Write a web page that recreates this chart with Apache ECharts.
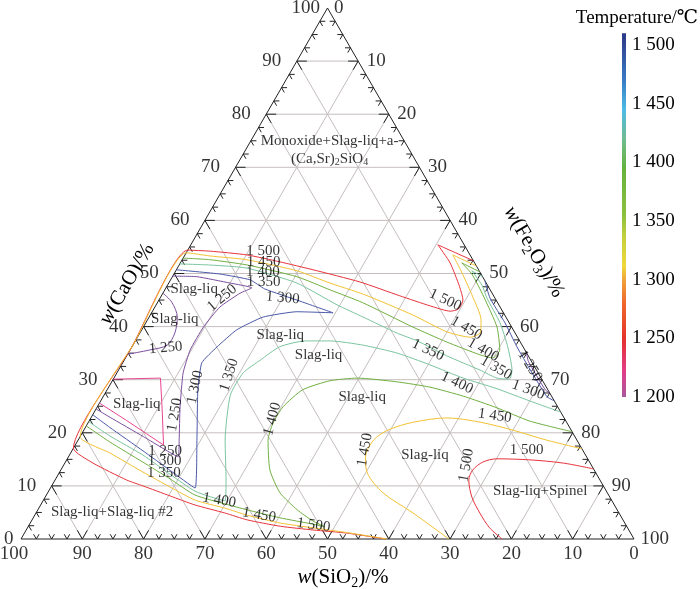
<!DOCTYPE html>
<html>
<head>
<meta charset="utf-8">
<script src="https://cdn.jsdelivr.net/npm/echarts@6.0.0/dist/echarts.min.js"></script>
<style>html,body{margin:0;padding:0;background:#fff;}#chart{width:700px;height:589px;}</style>
</head>
<body>
<div id="chart"></div>
<script>
// ===== DATA (compositions in mass %, point order [SiO2, CaO, Fe2O3]) =====
const SIO2_TICKS = [100, 90, 80, 70, 60, 50, 40, 30, 20, 10, 0];
const CAO_TICKS = [0, 10, 20, 30, 40, 50, 60, 70, 80, 90, 100];
const FE2O3_TICKS = [0, 10, 20, 30, 40, 50, 60, 70, 80, 90, 100];
const GRID_LEVELS = [10, 20, 30, 40, 50, 60, 70, 80, 90];
const MINOR_STEP = 2.5;
const TEMP_TICKS = [1200, 1250, 1300, 1350, 1400, 1450, 1500];
const TEMP_BAR_RANGE = [1200, 1510];

const iso1500_upper = [[0,52.4,47.6],[4.3,55.4,40.3],[4.0,52.0,44.0],[4.7,47.5,47.8],[5.4,45.0,49.6],[7.0,43.3,49.7],[8.5,42.9,48.6],[11.3,43.9,44.8],[15.3,45.8,38.9],[20.5,48.4,31.1],[27.0,50.7,22.3],[31.7,52.2,16.1],[36.4,53.5,10.1],[42.0,54.2,3.8],[45.6,54.4,0],[64.0,36.0,0],[82.9,17.1,0],[81.1,14.3,4.6],[77.2,11.1,11.7],[75.1,10.0,14.9],[71.6,8.1,20.3],[68.4,6.4,25.2],[64.3,4.9,30.8],[61.3,3.6,35.1],[56.5,2.4,41.1],[51.5,1.7,46.8],[46.2,1.1,52.7],[40.5,0,59.5]];
const iso1500_right = [[0,13.2,86.8],[4.4,14.3,81.3],[9.5,14.9,75.6],[14.8,15.1,70.1],[17.4,14.5,68.1],[19.8,13.0,67.2],[21.4,11.1,67.5],[22.5,7.9,69.6],[22.7,4.9,72.4],[22.5,2.1,75.4],[21.5,0,78.5]];
const iso1450_upper = [[0,51.4,48.6],[2.8,53.5,43.7],[3.0,50.1,46.9],[3.5,45.6,50.9],[4.3,41.3,54.4],[5.7,38.8,55.5],[7.7,38.0,54.3],[11.0,39.0,50.0],[15.0,42.2,42.8],[21.1,46.1,32.8],[25.5,48.2,26.3],[29.7,50.5,19.8],[36.9,52.6,10.5],[42.5,53.3,4.2],[46.1,53.9,0],[63.0,37.0,0],[80.7,19.3,0],[77.4,16.2,6.4],[73.8,12.6,13.6],[70.8,9.8,19.4],[67.9,7.3,24.8],[63.8,5.8,30.4],[60.9,4.5,34.6],[56.2,3.0,40.8],[51.3,2.1,46.6],[46.2,1.2,52.6],[40.3,0,59.7]];
const iso1450_right = [[30.2,0,69.8],[33.6,4.9,61.5],[36.6,8.7,54.7],[37.3,12.4,50.3],[36.1,15.4,48.5],[33.2,18.6,48.2],[29.9,20.5,49.6],[25.0,22.0,53.0],[19.1,22.8,58.1],[14.1,22.0,63.9],[9.5,20.5,70.0],[4.9,18.6,76.5],[0,17.0,83.0]];
const iso1400_upper = [[0,50.3,49.7],[2.1,52.0,45.9],[1.5,49.9,48.6],[1.7,45.6,52.7],[2.4,39.9,57.7],[4.1,35.6,60.3],[6.0,34.1,59.9],[7.8,34.7,57.5],[12.0,37.1,50.9],[16.1,39.9,44.0],[22.0,44.5,33.5],[26.1,46.9,27.0],[30.3,49.4,20.3],[37.3,51.6,11.1],[42.9,52.6,4.5],[47.1,52.9,0]];
const iso1400_main = [[78.7,21.3,0],[76.4,18.3,5.3],[72.9,14.5,12.6],[70.0,11.3,18.7],[67.5,8.3,24.2],[63.4,6.6,30.0],[60.4,5.5,34.1],[55.8,4.0,40.2],[51.0,2.8,46.2],[49.3,2.3,48.4],[50.7,3.4,45.9],[52.2,5.5,42.3],[53.4,8.7,37.9],[52.9,13.0,34.1],[50.4,18.6,31.0],[48.0,21.8,30.2],[44.8,24.9,30.3],[40.0,28.1,31.9],[34.7,29.8,35.5],[30.0,30.3,39.7],[23.9,29.6,46.5],[19.0,28.6,52.4],[14.4,26.9,58.7],[10.0,24.7,65.3],[5.9,22.2,71.9],[0,20.2,79.8]];
const iso1350_upper = [[0,49.4,50.6],[1.2,50.5,48.3],[0.9,47.8,51.3],[1.3,45.4,53.3],[1.5,40.7,57.8],[2.5,36.2,61.3],[4.0,31.8,64.2],[5.3,30.1,64.6],[7.2,30.3,62.5],[9.2,31.8,59.0],[13.3,34.5,52.2],[16.7,37.3,46.0],[19.3,38.8,41.9],[23.3,41.8,34.9],[26.4,44.1,29.5],[30.9,48.2,20.9],[37.6,51.0,11.4],[43.4,51.6,5.0],[48.2,51.8,0]];
const iso1350_main = [[77.9,22.1,0],[75.8,19.4,4.8],[72.2,15.8,12.0],[69.6,12.2,18.2],[67.1,9.0,23.9],[64.1,7.5,28.4],[63.1,7.2,29.7],[61.0,11.1,27.9],[57.4,18.6,24.0],[52.3,27.1,20.6],[48.1,31.3,20.6],[44.1,33.7,22.2],[39.7,36.2,24.1],[35.0,37.3,27.7],[30.9,37.3,31.8],[25.9,36.5,37.6],[21.1,35.0,43.9],[16.9,32.8,50.3],[12.7,30.3,57.0],[8.2,28.3,63.5],[4.0,26.0,70.0],[0,23.9,76.1]];
const iso1300_left = [[49.3,50.7,0],[42.6,49.9,7.5],[38.2,48.8,13.0],[36.7,47.1,16.2],[32.1,44.8,23.1],[27.8,42.6,29.6],[33.6,42.8,23.6],[39.6,41.8,18.6],[45.1,39.4,15.5],[49.9,36.2,13.9],[53.9,33.2,12.9],[57.1,28.1,14.8],[62.0,18.6,19.4],[66.8,9.6,23.6],[69.2,12.9,17.9],[71.8,16.6,11.6],[75.0,21.0,4.0],[76.6,23.4,0]];
const iso1300_edge = [[0,48.6,51.4],[0.8,45.4,53.8],[0.7,40.7,58.6],[1.0,36.2,62.8],[1.0,31.8,67.2],[0.9,28.6,70.5],[0.8,26.8,72.4],[0,26.0,74.0]];
const iso1250_left = [[50.5,49.5,0],[46.6,49.4,4.0],[41.8,48.2,10.0],[38.7,47.3,14.0],[41.1,46.3,12.6],[45.7,43.7,10.6],[50.3,39.9,9.8],[54.6,35.6,9.8],[57.9,31.3,10.8],[61.6,24.9,13.5],[64.9,18.6,16.5],[66.6,15.5,17.9],[70.4,19.3,10.3],[74.0,22.9,3.1],[75.5,24.5,0]];
const iso1250_arc = [[53.7,46.3,0],[53.1,44.6,2.3],[53.6,41.8,4.6],[55.5,38.8,5.7],[57.9,36.5,5.6],[61.2,35.6,3.2],[65.2,34.8,0]];
const iso1250_edge = [[0,35.0,65.0],[0.5,33.5,66.0],[0.5,30.0,69.5],[0.4,28.0,71.6],[0,27.5,72.5]];
const iso1200_box = [[69.9,30.1,0],[62.1,30.3,7.6],[65.0,23.9,11.1],[67.9,17.7,14.4],[69.6,19.8,10.6],[71.6,22.3,6.1],[74.4,25.6,0]];

// isotherm labels: [text, SiO2, CaO, Fe2O3]
const ISO_LABELS = [
  ['1 500',33.4,54.2,12.4],['1 450',34.3,52.2,13.5],['1 400',35.4,50.3,14.3],['1 350',36.2,48.4,15.4],
  ['1 300',34.6,45.4,20.0],['1 250',44.5,45.4,10.1],['1 250',58.4,36.0,5.6],
  ['1 250',68.2,16.6,15.2],['1 300',69.2,14.7,16.1],['1 350',70.5,12.4,17.1],['1 400',64.0,7.3,28.7],
  ['1 250',63.2,23.4,13.4],['1 300',57.3,28.6,14.1],['1 350',50.6,30.9,18.5],['1 400',47.7,22.6,29.7],
  ['1 450',58.9,4.5,36.6],['1 500',51.0,2.6,46.4],['1 450',35.5,16.8,47.7],['1 500',20.4,13.9,65.7],
  ['1 450',11.1,23.2,65.7],['1 500',9.1,16.8,74.1],
  ['1 500',8.3,45.0,46.7],['1 450',7.5,39.7,52.8],['1 400',6.8,35.6,57.6],['1 350',6.4,32.2,61.4],
  ['1 250',0.7,32.6,66.7],['1 300',3.2,28.1,68.7],['1 350',15.8,35.6,48.6],['1 400',14.2,29.4,56.4]
];
// phase-region labels: [text, SiO2, CaO, Fe2O3]
const REGION_LABELS = [
  ['Slag-liq',48.2,47.1,4.7],['Slag-liq',54.2,41.4,4.4],['Slag-liq',38.5,38.4,23.1],
  ['Slag-liq',34.1,34.7,31.2],['Slag-liq',31.0,26.7,42.3],['Slag-liq',26.2,15.8,58.0],
  ['Slag-liq',68.4,25.4,6.2],['Slag-liq+Slag-liq #2',82.6,5.1,12.3],['Slag-liq+Spinel',10.8,9.0,80.2],
  ['{n|Monoxide+Slag-liq+a-}\n{n|(Ca,Sr)}{s|2}{n|SiO}{s|4}',13.0,73.3,13.7]
];

// ===== STYLE =====
const ISO_LABEL_ROT = [0,0,0,0,-5,40,5,0,0,0,-10,80,78,72,75,-10,-8,80,80,-8,0,-25,-30,-30,-30,-58,-20,-25,-25];
const ISO_COLORS = {1500:'#e8333b',1450:'#f3c232',1400:'#71b041',1350:'#7bc59f',1300:'#4b59a9',1250:'#7d4f9f',1200:'#e8468f'};
const CONTOURS = [
  [iso1500_upper,1500,0.2],[iso1500_right,1500,0.3],[iso1450_upper,1450,0.2],[iso1450_right,1450,0.3],
  [iso1400_upper,1400,0.2],[iso1400_main,1400,0.2],[iso1350_upper,1350,0.2],[iso1350_main,1350,0.2],
  [iso1300_left,1300,0.15],[iso1300_edge,1300,0.2],[iso1250_left,1250,0.15],[iso1250_arc,1250,0.3],
  [iso1250_edge,1250,0.2],[iso1200_box,1200,0]
];
const FONT = "'Liberation Serif','Times New Roman','DejaVu Serif',serif";
const R3 = Math.sqrt(3) / 2;
const TICK_DIRS = [[[-0.5,-R3],[0.5,-R3]], [[1,0],[0.5,R3]], [[-1,0],[-0.5,R3]]];
const COLOR_STOPS = [
  {offset:0,color:'#a8589c'},{offset:0.07,color:'#e23c8a'},{offset:0.16,color:'#e4322c'},
  {offset:0.26,color:'#ef6a2c'},{offset:0.32,color:'#f0a03a'},{offset:0.36,color:'#efd83a'},
  {offset:0.44,color:'#c4d03c'},{offset:0.5,color:'#8cc03e'},{offset:0.63,color:'#66b23e'},
  {offset:0.71,color:'#6fbc92'},{offset:0.79,color:'#4cbce4'},{offset:0.87,color:'#3a7cc4'},
  {offset:1,color:'#2e3788'}
];

function toXY(p) { const c = p[1], f = p[2]; return [f + c / 2, c * R3]; }

// grid segments
const gridSegs = [];
GRID_LEVELS.forEach(k => {
  gridSegs.push(toXY([100 - k, k, 0]).concat(toXY([0, k, 100 - k])));
  gridSegs.push(toXY([k, 100 - k, 0]).concat(toXY([k, 0, 100 - k])));
  gridSegs.push(toXY([100 - k, 0, k]).concat(toXY([0, 100 - k, k])));
});
// ticks
const tickData = [];
for (let v = MINOR_STEP; v < 100; v += MINOR_STEP) {
  const major = Math.abs(v % 10) < 1e-6 ? 1 : 0;
  tickData.push(toXY([v, 0, 100 - v]).concat([0, major]));
  tickData.push(toXY([100 - v, v, 0]).concat([1, major]));
  tickData.push(toXY([0, 100 - v, v]).concat([2, major]));
}

const series = [];
series.push({
  type:'custom', coordinateSystem:'cartesian2d', xAxisIndex:0, yAxisIndex:0, silent:true, z:1, clip:false,
  encode:{x:[0,2], y:[1,3]}, data:gridSegs,
  renderItem:(params, api) => {
    const a = api.coord([api.value(0), api.value(1)]);
    const b = api.coord([api.value(2), api.value(3)]);
    return {type:'line', shape:{x1:a[0],y1:a[1],x2:b[0],y2:b[1]}, style:{stroke:'#c6bebe', lineWidth:1}};
  }
});
series.push({
  type:'line', xAxisIndex:0, yAxisIndex:0, data:[toXY([100,0,0]), toXY([0,100,0]), toXY([0,0,100]), toXY([100,0,0])],
  symbol:'none', lineStyle:{color:'#222', width:1}, silent:true, z:2, clip:false
});
series.push({
  type:'custom', coordinateSystem:'cartesian2d', xAxisIndex:0, yAxisIndex:0, silent:true, z:3, clip:false,
  encode:{x:0, y:1}, data:tickData,
  renderItem:(params, api) => {
    const p = api.coord([api.value(0), api.value(1)]);
    const d = TICK_DIRS[api.value(2)];
    const len = api.value(3) ? 10 : 5.5;
    return {type:'group', children:d.map(u => ({type:'line', shape:{x1:p[0], y1:p[1], x2:p[0] + u[0]*len, y2:p[1] + u[1]*len}, style:{stroke:'#222', lineWidth:1}}))};
  }
});
CONTOURS.forEach(([pts, t, sm]) => {
  series.push({
    type:'line', xAxisIndex:0, yAxisIndex:0, data:pts.map(toXY), symbol:'none', smooth:sm,
    lineStyle:{color:ISO_COLORS[t], width:1}, silent:true, z:4, clip:false
  });
});
function textSeries(items, label) {
  return {
    type:'scatter', xAxisIndex:0, yAxisIndex:0, data:items, symbolSize:1, itemStyle:{color:'rgba(0,0,0,0)'},
    silent:true, z:6, clip:false,
    label:Object.assign({show:true, color:'#000', fontFamily:FONT, fontSize:19}, label)
  };
}
series.push(textSeries(SIO2_TICKS.map(s => ({value:toXY([s,0,100-s]), label:{formatter:String(s), offset:s === 100 ? [-7,0] : [0,0]}})), {position:'bottom', distance:5}));
series.push(textSeries(CAO_TICKS.map(c => ({value:toXY([100-c,c,0]), label:{formatter:String(c), distance:(c === 0 || c === 100) ? 7 : 15}})), {position:'left'}));
series.push(textSeries(FE2O3_TICKS.map(f => ({value:toXY([0,100-f,f]), label:{formatter:String(f), distance:(f === 0 || f === 100) ? 6 : 8}})), {position:'right'}));
series.push(textSeries(ISO_LABELS.map((l, i) => ({value:toXY([l[1],l[2],l[3]]), label:{formatter:l[0], rotate:ISO_LABEL_ROT[i]}})), {position:'inside', fontSize:15}));
series.push(textSeries(REGION_LABELS.map(l => ({value:toXY([l[1],l[2],l[3]]), label:{formatter:l[0]}})), {
  position:'inside', fontSize:15, align:'center', lineHeight:18,
  rich:{n:{fontSize:15, lineHeight:18, fontFamily:FONT, color:'#000'}, s:{fontSize:10, lineHeight:10, verticalAlign:'bottom', fontFamily:FONT, color:'#000'}}
}));
series.push({
  type:'custom', coordinateSystem:'cartesian2d', xAxisIndex:1, yAxisIndex:1, silent:true, clip:false, z:5,
  data:[[0, TEMP_BAR_RANGE[0], TEMP_BAR_RANGE[1]]], encode:{x:0, y:[1,2]},
  renderItem:(params, api) => {
    const top = api.coord([0, api.value(2)]);
    const bot = api.coord([0, api.value(1)]);
    const w = api.size([1, 0])[0];
    return {type:'rect', shape:{x:top[0], y:top[1], width:w, height:bot[1] - top[1]},
      style:{fill:{type:'linear', x:0, y:1, x2:0, y2:0, colorStops:COLOR_STOPS}}};
  }
});

const titleRich = {
  i:{fontStyle:'italic', fontSize:21, fontFamily:FONT, lineHeight:26},
  s:{fontSize:14, fontFamily:FONT, lineHeight:14, verticalAlign:'bottom'}
};
const option = {
  animation:false,
  backgroundColor:'#ffffff',
  grid:[
    {left:21, top:8, width:613, height:531, containLabel:false, outerBoundsMode:'none'},
    {left:622, top:45, width:4, height:352, containLabel:false, outerBoundsMode:'none'}
  ],
  xAxis:[
    {gridIndex:0, type:'value', min:0, max:100, show:false},
    {gridIndex:1, type:'value', min:0, max:1, show:false}
  ],
  yAxis:[
    {gridIndex:0, type:'value', min:0, max:100 * R3, show:false},
    {gridIndex:1, type:'value', min:TEMP_TICKS[0], max:TEMP_TICKS[TEMP_TICKS.length - 1], interval:50, position:'right',
     axisLine:{show:false}, axisTick:{show:false}, splitLine:{show:false},
     axisLabel:{margin:6, fontSize:19, fontFamily:FONT, color:'#000', formatter:v => { const s = String(v); return s[0] + ' ' + s.slice(1); }}}
  ],
  series:series,
  graphic:[
    {type:'text', x:343, y:577, silent:true, style:{text:'{i|w}(SiO{s|2})/%', rich:titleRich, fontSize:21, fontFamily:FONT, lineHeight:26, fill:'#000', align:'center', verticalAlign:'middle'}},
    {type:'text', x:127, y:284, rotation:Math.PI / 3, silent:true, style:{text:'{i|w}(CaO)/%', rich:titleRich, fontSize:21, fontFamily:FONT, lineHeight:26, fill:'#000', align:'center', verticalAlign:'middle'}},
    {type:'text', x:534, y:252, rotation:-Math.PI / 3, silent:true, style:{text:'{i|w}(Fe{s|2}O{s|3})/%', rich:titleRich, fontSize:21, fontFamily:FONT, lineHeight:26, fill:'#000', align:'center', verticalAlign:'middle'}},
    {type:'text', x:637, y:18, silent:true, style:{text:'Temperature/\u2103', fontSize:19, fontFamily:FONT, fill:'#000', align:'center', verticalAlign:'middle'}}
  ]
};
const chart = echarts.init(document.getElementById('chart'));
chart.setOption(option);
</script>
</body>
</html>
